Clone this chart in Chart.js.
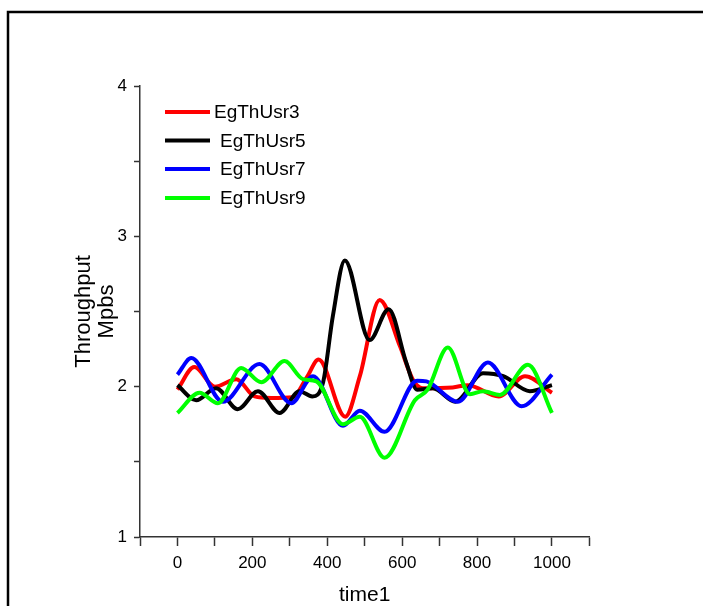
<!DOCTYPE html>
<html>
<head>
<meta charset="utf-8">
<script src="https://cdn.jsdelivr.net/npm/chart.js@4.4.1/dist/chart.umd.min.js"></script>
<style>
  html, body { margin: 0; padding: 0; background: #fff; }
  canvas { display: block; }
</style>
</head>
<body>
<canvas id="throughputChart" width="703" height="606"></canvas>
<script>
// series (time1 vs throughput)
const seriesNames = ['EgThUsr3', 'EgThUsr5', 'EgThUsr7', 'EgThUsr9'];
const seriesColors = ['#ff0000', '#000000', '#0000ff', '#00ff00'];

const usr3Time = [0, 45, 100, 157, 206, 250, 308, 345, 377, 448, 487, 540, 594, 628, 655, 735, 775, 858, 928, 1000];
const usr3Thr  = [1.98, 2.13, 2.0, 2.05, 1.935, 1.925, 1.93, 2.06, 2.18, 1.80, 2.07, 2.577, 2.27, 2.05, 1.99, 1.995, 2.01, 1.935, 2.07, 1.96];

const usr5Time = [0, 50, 103, 161, 215, 273, 326, 360, 389, 415, 447, 513, 564, 611, 640, 682, 742, 816, 870, 941, 1000];
const usr5Thr  = [2.01, 1.91, 1.99, 1.85, 1.97, 1.825, 1.97, 1.935, 2.03, 2.47, 2.84, 2.31, 2.515, 2.16, 1.98, 1.99, 1.90, 2.09, 2.07, 1.97, 2.01];

const usr7Time = [0, 37, 121, 219, 304, 362, 442, 487, 553, 640, 665, 749, 829, 919, 1000];
const usr7Thr  = [2.08, 2.19, 1.90, 2.15, 1.89, 2.07, 1.74, 1.84, 1.70, 2.04, 2.035, 1.90, 2.16, 1.87, 2.08];

const usr9Time = [0, 59, 108, 170, 224, 286, 335, 371, 442, 487, 553, 634, 668, 722, 781, 816, 861, 936, 1000];
const usr9Thr  = [1.825, 1.96, 1.89, 2.125, 2.03, 2.17, 2.05, 2.035, 1.75, 1.80, 1.527, 1.91, 1.98, 2.26, 1.95, 1.97, 1.945, 2.145, 1.825];

const xTickLabels = ['0', '200', '400', '600', '800', '1000'];
const yTickLabels = ['1', '2', '3', '4'];

const times = [usr3Time, usr5Time, usr7Time, usr9Time];
const values = [usr3Thr, usr5Thr, usr7Thr, usr9Thr];

const FONT = "'Liberation Sans', Arial, sans-serif";

// outer frame (left + top edges only) and white background
const framePlugin = {
  id: 'frame',
  beforeDraw(chart) {
    const ctx = chart.ctx;
    ctx.save();
    ctx.fillStyle = '#fff';
    ctx.fillRect(0, 0, chart.width, chart.height);
    ctx.restore();
  },
  afterDraw(chart) {
    const ctx = chart.ctx;
    ctx.save();
    ctx.strokeStyle = '#000';
    ctx.lineWidth = 2.5;
    ctx.beginPath();
    ctx.moveTo(8, chart.height);
    ctx.lineTo(8, 12);
    ctx.lineTo(chart.width, 12);
    ctx.stroke();
    ctx.restore();
  }
};

// legend sits inside the plot, top left
const insideLegend = {
  id: 'insideLegend',
  afterDraw(chart) {
    const ctx = chart.ctx;
    const rowY = [112, 140.5, 169, 198];
    const textX = [214, 220, 220, 220];
    ctx.save();
    ctx.font = '19px ' + FONT;
    ctx.textBaseline = 'middle';
    chart.data.datasets.forEach((ds, i) => {
      ctx.strokeStyle = ds.borderColor;
      ctx.lineWidth = 4;
      ctx.beginPath();
      ctx.moveTo(165, rowY[i]);
      ctx.lineTo(210, rowY[i]);
      ctx.stroke();
      ctx.fillStyle = '#000';
      ctx.fillText(ds.label, textX[i], rowY[i] + 1);
    });
    ctx.restore();
  }
};

const chartData = {
  datasets: seriesNames.map((name, i) => ({
    label: name,
    data: times[i].map((t, j) => ({ x: t, y: values[i][j] })),
    borderColor: seriesColors[i],
    backgroundColor: seriesColors[i],
    borderWidth: 4,
    pointRadius: 0,
    cubicInterpolationMode: 'monotone',
    fill: false,
    order: seriesNames.length - i,
  })),
};

const ctx = document.getElementById('throughputChart').getContext('2d');
new Chart(ctx, {
  type: 'line',
  data: chartData,
  plugins: [framePlugin, insideLegend],
  options: {
    responsive: false,
    animation: false,
    devicePixelRatio: 1,
    layout: {
      padding: { top: 86, right: 113.6, left: 0, bottom: 0 },
    },
    plugins: {
      legend: { display: false },
      tooltip: { enabled: false },
    },
    scales: {
      x: {
        type: 'linear',
        min: -100,
        max: 1100,
        afterFit: (scale) => { scale.height = 69; },
        border: { display: true, color: '#333', width: 1.5 },
        grid: { drawOnChartArea: false, drawTicks: true, tickLength: 9, tickColor: '#333', tickWidth: 1.5 },
        ticks: {
          stepSize: 100,
          padding: 7,
          color: '#000',
          maxRotation: 0,
          autoSkip: false,
          font: { family: FONT, size: 17 },
          callback: (v) => (xTickLabels.includes(String(v)) ? String(v) : ''),
        },
        title: {
          display: true,
          text: 'time1',
          color: '#000',
          font: { family: FONT, size: 21, lineHeight: 1 },
          padding: { top: 0, bottom: 0 },
        },
      },
      y: {
        type: 'linear',
        min: 1,
        max: 4,
        afterFit: (scale) => { scale.width = 140; },
        border: { display: true, color: '#333', width: 1.5 },
        grid: { drawOnChartArea: false, drawTicks: true, tickLength: 6, tickColor: '#333', tickWidth: 1.5 },
        ticks: {
          stepSize: 0.5,
          padding: 7,
          color: '#000',
          autoSkip: false,
          font: { family: FONT, size: 17 },
          callback: (v) => (yTickLabels.includes(String(v)) ? String(v) : ''),
        },
        title: {
          display: true,
          text: ['Throughput', 'Mpbs'],
          color: '#000',
          font: { family: FONT, size: 22, lineHeight: 1.05 },
          padding: { top: 72, bottom: 0 },
        },
      },
    },
  },
});
</script>
</body>
</html>
